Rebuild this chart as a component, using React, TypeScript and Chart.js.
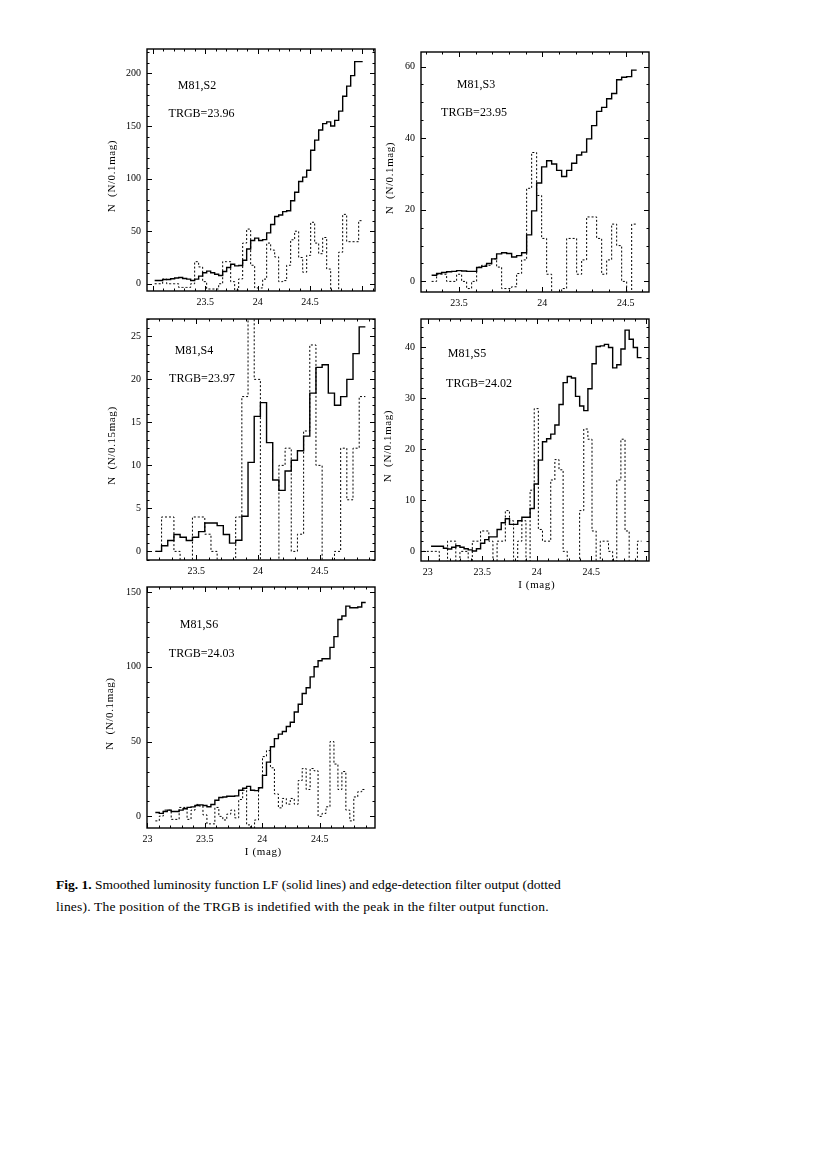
import React, { useEffect, useRef } from "react";
import { Chart, registerables } from "chart.js";
Chart.register(...registerables);

// ---------------- DATA ----------------
// M81,S2  (smoothed LF, solid; edge-detection filter output, dotted)
const S2_START = 23.016;
const S2_STEP = 0.0382;
const S2_LF = [3.1, 3.1, 4.0, 4.0, 4.7, 5.5, 6.0, 5.0, 4.4, 3.1, 4.4, 7.3, 10.5, 12.0, 10.4, 9.1, 7.9, 11.7, 15.4, 18.6, 17.0, 17.3, 22.3, 33.0, 41.2, 43.4, 41.2, 42.0, 48.4, 56.3, 64.0, 65.4, 68.6, 69.5, 79.0, 87.0, 97.3, 101.4, 108.0, 127.0, 136.6, 146.3, 152.3, 154.0, 150.0, 155.4, 164.2, 178.3, 188.0, 198.0, 211.3, 211.3];
const S2_FILTER = [0, 0, 4.5, 0, 0, 0, -3.5, -3.5, -3.5, 0, 21, 16, 2, -5, -5, -5, 0, 21, 21, 2, -6, 4.6, 38.7, 52, 17.6, -4, -4, 4.4, 38.7, 32, 25.5, 2, 3, 17.6, 41.8, 50, 25, 11, 27, 58.5, 38.7, 28.6, 44, 14, -8, -8, 30, 66, 40, 40, 40, 60];

// M81,S3
const S3_START = 23.336;
const S3_STEP = 0.03;
const S3_LF = [1.7, 2.2, 2.5, 2.7, 2.8, 3.0, 2.9, 2.8, 2.8, 3.9, 4.2, 5.0, 6.3, 7.7, 8.0, 7.8, 6.8, 7.2, 8.0, 13.0, 19.7, 27.5, 32.0, 33.7, 32.8, 31.0, 29.3, 31.0, 33.0, 35.3, 36.1, 39.8, 43.5, 47.5, 48.6, 51.0, 52.5, 56.3, 57.0, 57.2, 59.0];
const S3_FILTER = [0, 2, 2, 0, 0, 2, 0, -2, 0, 4, 4.5, 4.5, 6.3, 4, -2, -2, -1.5, 2.2, 6, 26, 36, 24, 12, 2, -5, -5, -2, 12, 12, 2, 6, 18, 18, 12, 2, 6, 16, 10, 0, -5, 16];

// M81,S4
const S4_START = 23.169;
const S4_STEP = 0.05;
const S4_LF = [0, 0.65, 1.27, 1.96, 1.65, 1.27, 1.65, 2.3, 3.3, 3.3, 3.0, 1.96, 0.96, 1.3, 4.08, 10.35, 15.7, 17.3, 12.65, 8.3, 7.1, 9.35, 10.6, 11.7, 13.4, 18.4, 21.4, 21.7, 18.4, 17.0, 18.0, 20.0, 23.0, 26.1];
const S4_FILTER = [0, 4, 4, 0, -2, -2, 4, 4, 2, 0, -2, -2, -2, 4, 18, 29, 20, -2, -2, -2, 10, 12, 0, 2, 14, 24, 10, -2, -2, 0, 12, 6, 12, 18];

// M81,S5
const S5_START = 23.03;
const S5_STEP = 0.0379;
const S5_FILTER_START = 22.954;
const S5_LF = [1.0, 1.0, 1.0, 0.6, 0.45, 0.8, 1.1, 0.8, 0.5, 0.3, 0.06, 0.5, 1.6, 2.3, 2.85, 2.85, 4.3, 5.6, 6.4, 5.3, 5.3, 6.0, 6.7, 6.7, 8.4, 13.2, 17.9, 21.5, 22.1, 23.0, 24.8, 28.8, 33.1, 34.3, 34.0, 30.4, 28.5, 27.6, 31.9, 36.8, 40.2, 40.3, 40.6, 40.0, 36.0, 36.6, 39.7, 43.4, 41.6, 40.0, 38.0];
const S5_FILTER = [0, 0, 0, 0, -3, -3, 2, 2, -3, 0, 0, -3, 2, 2, 4, 4, 2, -3, 2, 2, 8, 6, -3, 2, 6, -3, 12, 28, 4.3, 2, 2, 14, 18, 16, 0, -3, -3, -3, 8, 24, 22, 4, -3, 2, 2, 0, -3, 14, 22, 4, -3, -3, 2];

// M81,S6
const S6_START = 23.069;
const S6_STEP = 0.03455;
const S6_LF = [2.65, 2.0, 3.3, 4.2, 3.3, 3.3, 4.2, 5.1, 6.0, 6.4, 7.3, 7.7, 7.3, 6.5, 8.0, 10.8, 12.6, 13.0, 13.5, 13.5, 13.7, 17.5, 18.8, 20.1, 17.5, 17.2, 19.2, 27.4, 36.3, 46.6, 52.0, 55.0, 56.8, 60.1, 63.0, 69.8, 75.0, 82.2, 86.0, 93.3, 100.1, 104.1, 105.4, 105.4, 113.0, 120.2, 131.7, 134.0, 140.6, 139.5, 139.5, 140.0, 143.0];
const S6_FILTER = [-3, 0.2, 4.2, 4.2, -2, -2, 6, 6, -2, 4.2, 8, 7, 1, -5, -5, 6, 0, -2.4, 1.5, 4.2, -1, 11.3, 17.5, -5.7, -10, -2.4, 19, 40, 44, 32.5, 15, 5.7, 12, 8.2, 12, 8.2, 24, 32, 18, 32, 30.5, 0, 2, 6.4, 50, 35, 18, 30, 4.2, -3, 13, 16.5, 18];

// tick labels
const X_LABELS_TOP = [23.5, 24, 24.5];
const X_LABELS_BOTTOM = [23, 23.5, 24, 24.5];
const S2_Y_LABELS = [0, 50, 100, 150, 200];
const S3_Y_LABELS = [0, 20, 40, 60];
const S4_Y_LABELS = [0, 5, 10, 15, 20, 25];
const S5_Y_LABELS = [0, 10, 20, 30, 40];
const S6_Y_LABELS = [0, 50, 100, 150];

// ---------------- LAYOUT ----------------
const AX_W = 50;
const AX_H = 34;
const PAD_T = 10;
const PAD_R = 10;
const SERIF = '"Liberation Serif", "Times New Roman", serif';

type PanelCfg = {
  frame: [number, number, number, number];
  xMin: number; xMax: number; yMin: number; yMax: number;
  yMajor: number; yMinor: number;
  xLabels: number[]; yLabels: number[];
  lfStart: number; lfStep: number; lf: number[];
  fStart: number; filter: number[];
  name: string; trgb: string; nameAt: [number, number]; trgbAt: [number, number];
  yTitle: string; yTitleDx: number; xTitle?: string; xTitleAt?: [number, number];
};

const PANELS: PanelCfg[] = [
  {
    frame: [147, 47, 375, 291], xMin: 22.943, xMax: 25.12, yMin: -6.89, yMax: 223.3,
    yMajor: 50, yMinor: 10, xLabels: X_LABELS_TOP, yLabels: S2_Y_LABELS,
    lfStart: S2_START, lfStep: S2_STEP, lf: S2_LF, fStart: S2_START, filter: S2_FILTER,
    name: "M81,S2", trgb: "TRGB=23.96", nameAt: [50, 37], trgbAt: [54.5, 64.5],
    yTitle: "N  (N/0.1mag)", yTitleDx: -35,
  },
  {
    frame: [421, 50, 649, 292], xMin: 23.2723, xMax: 24.64, yMin: -2.96, yMax: 64.07,
    yMajor: 20, yMinor: 5, xLabels: X_LABELS_TOP, yLabels: S3_Y_LABELS,
    lfStart: S3_START, lfStep: S3_STEP, lf: S3_LF, fStart: S3_START, filter: S3_FILTER,
    name: "M81,S3", trgb: "TRGB=23.95", nameAt: [55, 32.5], trgbAt: [53, 61],
    yTitle: "N  (N/0.1mag)", yTitleDx: -31,
  },
  {
    frame: [147, 317, 375, 560], xMin: 23.101, xMax: 24.947, yMin: -1.0, yMax: 27.02,
    yMajor: 5, yMinor: 1, xLabels: X_LABELS_TOP, yLabels: S4_Y_LABELS,
    lfStart: S4_START, lfStep: S4_STEP, lf: S4_LF, fStart: S4_START, filter: S4_FILTER,
    name: "M81,S4", trgb: "TRGB=23.97", nameAt: [47, 31.5], trgbAt: [55, 60],
    yTitle: "N  (N/0.15mag)", yTitleDx: -35,
  },
  {
    frame: [421, 317, 649, 561], xMin: 22.9376, xMax: 25.0312, yMin: -1.89, yMax: 45.58,
    yMajor: 10, yMinor: 2, xLabels: X_LABELS_BOTTOM, yLabels: S5_Y_LABELS,
    lfStart: S5_START, lfStep: S5_STEP, lf: S5_LF, fStart: S5_FILTER_START, filter: S5_FILTER,
    name: "M81,S5", trgb: "TRGB=24.02", nameAt: [46, 35], trgbAt: [58, 64.5],
    yTitle: "N  (N/0.1mag)", yTitleDx: -32.5, xTitle: "I (mag)", xTitleAt: [115.7, 24],
  },
  {
    frame: [147, 585, 375, 828], xMin: 22.9965, xMax: 24.981, yMin: -7.76, yMax: 153.4,
    yMajor: 50, yMinor: 10, xLabels: X_LABELS_BOTTOM, yLabels: S6_Y_LABELS,
    lfStart: S6_START, lfStep: S6_STEP, lf: S6_LF, fStart: S6_START, filter: S6_FILTER,
    name: "M81,S6", trgb: "TRGB=24.03", nameAt: [52, 38], trgbAt: [54.7, 66.5],
    yTitle: "N  (N/0.1mag)", yTitleDx: -37, xTitle: "I (mag)", xTitleAt: [116.3, 23.7],
  },
];

function stepPoints(start: number, step: number, values: number[]) {
  const pts = values.map((v, i) => ({ x: start + i * step, y: v }));
  pts.push({ x: start + values.length * step, y: values[values.length - 1] });
  return pts;
}

function hasLabel(list: number[], v: number) {
  return list.some((l) => Math.abs(l - v) < 1e-6);
}

function Panel({ cfg }: { cfg: PanelCfg }) {
  const ref = useRef<HTMLCanvasElement | null>(null);
  const [l, t, r, b] = cfg.frame;
  const W = r - l + AX_W + PAD_R;
  const H = b - t + PAD_T + AX_H;

  useEffect(() => {
    if (!ref.current) return;
    const deco = {
      id: "deco",
      afterDatasetsDraw(chart: any) {
        const { ctx, chartArea: a, scales } = chart;
        const xs = scales.x;
        const ys = scales.y;
        ctx.save();
        ctx.strokeStyle = "#000";
        ctx.lineWidth = 1.4;
        ctx.strokeRect(a.left, a.top, a.right - a.left, a.bottom - a.top);
        ctx.lineWidth = 1;
        ctx.beginPath();
        // x ticks (minor 0.1, major 0.5), inward on top & bottom
        const xs0 = Math.ceil(cfg.xMin / 0.1 - 1e-9);
        const xs1 = Math.floor(cfg.xMax / 0.1 + 1e-9);
        for (let k = xs0; k <= xs1; k++) {
          const v = k * 0.1;
          const major = Math.abs(v / 0.5 - Math.round(v / 0.5)) < 1e-6;
          const len = major ? 5 : 2.5;
          const p = Math.round(xs.getPixelForValue(v)) + 0.5;
          ctx.moveTo(p, a.bottom);
          ctx.lineTo(p, a.bottom - len);
          ctx.moveTo(p, a.top);
          ctx.lineTo(p, a.top + len);
        }
        const ys0 = Math.ceil(cfg.yMin / cfg.yMinor - 1e-9);
        const ys1 = Math.floor(cfg.yMax / cfg.yMinor + 1e-9);
        for (let k = ys0; k <= ys1; k++) {
          const v = k * cfg.yMinor;
          const major = Math.abs(v / cfg.yMajor - Math.round(v / cfg.yMajor)) < 1e-6;
          const len = major ? 5 : 2.5;
          const p = Math.round(ys.getPixelForValue(v)) + 0.5;
          ctx.moveTo(a.left, p);
          ctx.lineTo(a.left + len, p);
          ctx.moveTo(a.right, p);
          ctx.lineTo(a.right - len, p);
        }
        ctx.stroke();

        ctx.fillStyle = "#000";
        ctx.textAlign = "center";
        ctx.textBaseline = "middle";
        ctx.font = `12px ${SERIF}`;
        ctx.fillText(cfg.name, a.left + cfg.nameAt[0], a.top + cfg.nameAt[1]);
        ctx.fillText(cfg.trgb, a.left + cfg.trgbAt[0], a.top + cfg.trgbAt[1]);

        ctx.font = `11px ${SERIF}`;
        try { (ctx as any).letterSpacing = "0.6px"; } catch (e) {}
        ctx.save();
        ctx.translate(a.left + cfg.yTitleDx, (a.top + a.bottom) / 2 + 6);
        ctx.rotate(-Math.PI / 2);
        ctx.fillText(cfg.yTitle, 0, 0);
        ctx.restore();
        if (cfg.xTitle && cfg.xTitleAt) {
          ctx.fillText(cfg.xTitle, a.left + cfg.xTitleAt[0], a.bottom + cfg.xTitleAt[1]);
        }
        ctx.restore();
      },
    };

    const tickFont = { family: SERIF, size: 10 };
    const chart = new Chart(ref.current, {
      type: "line",
      data: {
        datasets: [
          {
            data: stepPoints(cfg.lfStart, cfg.lfStep, cfg.lf),
            stepped: true,
            borderColor: "#000",
            borderWidth: 1.4,
            pointRadius: 0,
            fill: false,
            clip: 0,
          } as any,
          {
            data: stepPoints(cfg.fStart, cfg.lfStep, cfg.filter),
            stepped: true,
            borderColor: "#000",
            borderWidth: 1,
            borderDash: [2, 2],
            pointRadius: 0,
            fill: false,
            clip: 0,
          } as any,
        ],
      },
      options: {
        responsive: false,
        animation: false,
        devicePixelRatio: 1,
        events: [],
        layout: { padding: { top: PAD_T, right: PAD_R, left: 0, bottom: 0 } },
        plugins: { legend: { display: false }, tooltip: { enabled: false } },
        scales: {
          x: {
            type: "linear",
            position: "bottom",
            min: cfg.xMin,
            max: cfg.xMax,
            grid: { display: false, drawTicks: false },
            border: { display: false },
            ticks: {
              stepSize: 0.5,
              includeBounds: false,
              autoSkip: false,
              maxRotation: 0,
              padding: 5,
              color: "#000",
              font: tickFont,
              callback: (v: any) => (hasLabel(cfg.xLabels, Number(v)) ? String(Number(Number(v).toFixed(2))) : ""),
            },
            afterFit: (s: any) => { s.height = AX_H; },
          },
          y: {
            type: "linear",
            position: "left",
            min: cfg.yMin,
            max: cfg.yMax,
            grid: { display: false, drawTicks: false },
            border: { display: false },
            ticks: {
              stepSize: cfg.yMajor,
              includeBounds: false,
              autoSkip: false,
              padding: 6,
              color: "#000",
              font: tickFont,
              callback: (v: any) => (hasLabel(cfg.yLabels, Number(v)) ? String(Number(v)) : ""),
            },
            afterFit: (s: any) => { s.width = AX_W; },
          },
        },
      } as any,
      plugins: [deco],
    });
    return () => chart.destroy();
  }, []);

  return (
    <canvas
      ref={ref}
      width={W}
      height={H}
      style={{ position: "absolute", left: l - AX_W, top: t - PAD_T, width: W, height: H }}
    />
  );
}

export default function App() {
  const capStyle: React.CSSProperties = {
    position: "absolute",
    left: 56,
    whiteSpace: "nowrap",
    fontFamily: SERIF,
    fontSize: 13.5,
    lineHeight: "16px",
    color: "#000",
  };
  return (
    <div style={{ position: "absolute", left: 0, top: 0, width: 829, height: 1171, background: "#fff", overflow: "hidden" }}>
      {PANELS.map((p, i) => (
        <Panel key={i} cfg={p} />
      ))}
      <div style={{ ...capStyle, top: 877 }}>
        <b>Fig. 1.</b> Smoothed luminosity function LF (solid lines) and edge-detection filter output (dotted
      </div>
      <div style={{ ...capStyle, top: 899, letterSpacing: "0.2px" }}>
        lines). The position of the TRGB is indetified with the peak in the filter output function.
      </div>
    </div>
  );
}
